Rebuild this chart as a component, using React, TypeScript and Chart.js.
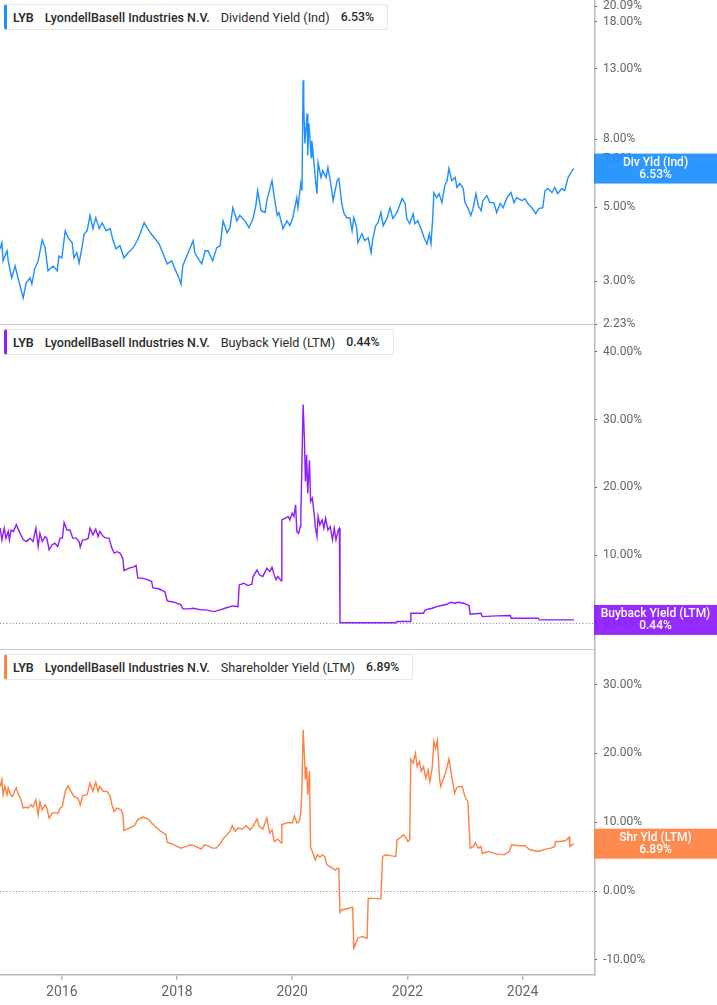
import React, { useEffect, useRef } from 'react';
import { Chart, registerables } from 'chart.js';

Chart.register(...registerables);

// ---------- data ----------
const X_MIN = 2014.927;
const X_MAX = 2025.24;
const yearTicks = [2016, 2018, 2020, 2022, 2024];
const divTicks = [2.23, 3, 5, 7, 8, 13, 18, 20.09];
const buybackTicks = [0, 10, 20, 30, 40];
const shrTicks = [-10, 0, 10, 20, 30];

const divYears = [
  2014.93, 2014.96, 2014.98, 2015.05, 2015.07, 2015.13, 2015.19, 2015.24, 2015.33, 2015.38,
  2015.45, 2015.48, 2015.53, 2015.59, 2015.66, 2015.71, 2015.76, 2015.85, 2015.92, 2015.95,
  2016.00, 2016.06, 2016.11, 2016.18, 2016.21, 2016.26, 2016.30, 2016.35, 2016.39, 2016.44,
  2016.49, 2016.54, 2016.59, 2016.65, 2016.70, 2016.77, 2016.84, 2016.89, 2016.94, 2017.01,
  2017.08, 2017.15, 2017.24, 2017.31, 2017.36, 2017.43, 2017.48, 2017.55, 2017.62, 2017.69,
  2017.76, 2017.83, 2017.91, 2017.96, 2018.02, 2018.07, 2018.10, 2018.17, 2018.23, 2018.28,
  2018.31, 2018.36, 2018.43, 2018.49, 2018.54, 2018.62, 2018.69, 2018.75, 2018.80, 2018.87,
  2018.92, 2018.97, 2019.04, 2019.09, 2019.18, 2019.25, 2019.32, 2019.37, 2019.40, 2019.46,
  2019.53, 2019.56, 2019.65, 2019.68, 2019.74, 2019.77, 2019.84, 2019.91, 2019.96, 2020.01,
  2020.08, 2020.10, 2020.15, 2020.17, 2020.19, 2020.20, 2020.22, 2020.26, 2020.27, 2020.29,
  2020.33, 2020.34, 2020.36, 2020.40, 2020.43, 2020.45, 2020.50, 2020.53, 2020.59, 2020.62,
  2020.67, 2020.71, 2020.78, 2020.81, 2020.86, 2020.90, 2020.95, 2021.00, 2021.04, 2021.07,
  2021.12, 2021.14, 2021.21, 2021.26, 2021.32, 2021.37, 2021.40, 2021.45, 2021.49, 2021.54,
  2021.58, 2021.65, 2021.70, 2021.75, 2021.82, 2021.85, 2021.91, 2021.96, 2021.99, 2022.04,
  2022.10, 2022.13, 2022.18, 2022.25, 2022.29, 2022.34, 2022.38, 2022.41, 2022.44, 2022.46,
  2022.51, 2022.55, 2022.60, 2022.65, 2022.69, 2022.72, 2022.77, 2022.83, 2022.86, 2022.91,
  2022.97, 2023.00, 2023.05, 2023.10, 2023.14, 2023.19, 2023.23, 2023.28, 2023.31, 2023.38,
  2023.43, 2023.50, 2023.55, 2023.61, 2023.66, 2023.73, 2023.80, 2023.85, 2023.90, 2023.99,
  2024.04, 2024.09, 2024.16, 2024.23, 2024.28, 2024.35, 2024.39, 2024.44, 2024.51, 2024.56,
  2024.61, 2024.68, 2024.73, 2024.79, 2024.86, 2024.89,
];
const divValues = [
  3.75, 3.91, 3.45, 3.70, 3.45, 3.07, 3.33, 3.07, 2.67, 2.96,
  3.07, 2.94, 3.27, 3.45, 3.99, 3.78, 3.22, 3.33, 3.22, 3.57,
  3.52, 4.25, 4.05, 3.91, 3.52, 3.65, 3.40, 3.78, 4.16, 4.25,
  4.72, 4.31, 4.65, 4.31, 4.49, 4.25, 4.31, 3.97, 3.75, 3.83,
  3.52, 3.65, 3.78, 3.97, 4.16, 4.49, 4.34, 4.16, 4.02, 3.88,
  3.62, 3.38, 3.45, 3.27, 3.11, 2.94, 3.33, 3.57, 3.78, 3.97,
  3.65, 3.52, 3.38, 3.70, 3.70, 3.45, 3.78, 3.83, 4.55, 4.19,
  4.34, 4.98, 4.55, 4.72, 4.55, 4.34, 4.62, 5.06, 5.61, 4.88,
  4.82, 5.23, 6.01, 5.49, 4.72, 4.82, 4.31, 4.55, 4.40, 4.65,
  5.34, 4.98, 5.89, 5.61, 12.03, 10.25, 7.77, 9.56, 7.15, 8.93,
  7.05, 7.93, 7.40, 6.14, 5.49, 6.81, 6.14, 6.44, 6.14, 6.58,
  5.89, 5.23, 6.01, 6.10, 5.13, 4.78, 4.65, 4.65, 4.25, 4.65,
  4.34, 3.91, 4.16, 3.97, 4.05, 3.65, 4.02, 4.40, 4.49, 4.82,
  4.40, 4.65, 4.98, 4.62, 4.82, 4.98, 5.31, 5.13, 4.62, 4.46,
  4.78, 4.46, 4.55, 4.25, 4.05, 3.88, 4.16, 3.88, 4.65, 5.53,
  5.34, 5.49, 5.16, 5.81, 6.01, 6.53, 6.01, 6.14, 5.73, 5.89,
  5.69, 5.16, 4.98, 4.72, 4.95, 5.49, 5.06, 4.88, 5.23, 5.42,
  5.16, 5.16, 4.82, 5.13, 4.98, 5.34, 5.53, 5.16, 5.34, 5.23,
  5.31, 5.13, 4.98, 4.78, 4.95, 4.98, 5.61, 5.69, 5.53, 5.73,
  5.49, 5.69, 5.61, 6.14, 6.44, 6.53,
];

const buybackYears = [
  2014.93, 2014.96, 2015.00, 2015.03, 2015.07, 2015.09, 2015.12, 2015.16, 2015.21, 2015.26,
  2015.33, 2015.39, 2015.45, 2015.50, 2015.55, 2015.59, 2015.62, 2015.66, 2015.71, 2015.74,
  2015.78, 2015.83, 2015.88, 2015.93, 2015.97, 2016.01, 2016.04, 2016.09, 2016.14, 2016.19,
  2016.25, 2016.30, 2016.32, 2016.36, 2016.40, 2016.46, 2016.49, 2016.54, 2016.59, 2016.63,
  2016.66, 2016.72, 2016.77, 2016.82, 2016.87, 2016.91, 2016.96, 2017.01, 2017.06, 2017.08,
  2017.17, 2017.26, 2017.29, 2017.32, 2017.39, 2017.50, 2017.56, 2017.58, 2017.69, 2017.79,
  2017.83, 2017.95, 2018.07, 2018.10, 2018.21, 2018.28, 2018.42, 2018.50, 2018.64, 2018.75,
  2018.83, 2018.97, 2019.06, 2019.08, 2019.16, 2019.23, 2019.30, 2019.32, 2019.39, 2019.43,
  2019.49, 2019.56, 2019.61, 2019.65, 2019.68, 2019.72, 2019.75, 2019.81, 2019.82, 2019.88,
  2019.93, 2019.96, 2020.00, 2020.03, 2020.06, 2020.08, 2020.11, 2020.14, 2020.15, 2020.17,
  2020.19, 2020.21, 2020.23, 2020.25, 2020.27, 2020.30, 2020.32, 2020.35, 2020.39, 2020.40,
  2020.43, 2020.45, 2020.48, 2020.52, 2020.55, 2020.58, 2020.62, 2020.66, 2020.70, 2020.73,
  2020.76, 2020.80, 2020.82, 2020.83, 2021.80, 2021.82, 2022.05, 2022.06, 2022.28, 2022.31,
  2022.43, 2022.55, 2022.69, 2022.76, 2022.82, 2022.88, 2022.98, 2023.07, 2023.09, 2023.28,
  2023.30, 2023.54, 2023.79, 2023.80, 2024.27, 2024.29, 2024.89,
];
const buybackValues = [
  13.97, 12.25, 13.97, 12.5, 13.5, 12.25, 13.7, 13.5, 14.5, 13.5,
  12.25, 12.0, 12.5, 12.0, 13.97, 11.26, 13.2, 12.0, 12.74, 12.5,
  10.77, 11.5, 11.76, 11.26, 12.5, 12.5, 14.8, 13.7, 13.7, 12.5,
  12.5, 12.0, 11.17, 12.25, 12.25, 12.5, 13.97, 13.0, 13.8, 12.74,
  13.5, 12.74, 12.5, 12.5, 11.0, 10.3, 10.5, 10.3, 9.5, 7.7,
  8.07, 8.3, 8.46, 6.6, 6.6, 6.35, 6.1, 5.2, 5.0, 4.6,
  3.25, 3.05, 2.66, 2.07, 2.07, 2.16, 1.92, 1.92, 1.67, 1.92,
  2.16, 2.5, 2.4, 5.6, 5.85, 5.5, 5.7, 6.84, 7.8, 7.1,
  6.84, 8.07, 7.6, 8.2, 7.3, 6.35, 6.84, 6.2, 15.2, 15.45,
  15.7, 15.2, 16.2, 15.7, 17.4, 13.5, 13.2, 14.2, 15.7, 24.0,
  32.2, 27.7, 20.86, 24.8, 19.1, 24.0, 17.9, 18.4, 15.45, 14.2,
  12.74, 15.7, 14.46, 15.2, 13.97, 15.45, 13.7, 14.2, 12.25, 13.97,
  12.25, 13.7, 13.97, 0.02, 0.02, 0.2, 0.2, 1.43, 1.43, 1.92,
  2.16, 2.5, 2.75, 3.05, 2.9, 3.05, 2.9, 2.56, 1.28, 1.43,
  0.93, 1.03, 1.08, 0.69, 0.69, 0.44, 0.44,
];

const shrYears = [
  2014.93, 2014.96, 2014.98, 2015.01, 2015.05, 2015.07, 2015.11, 2015.14, 2015.18, 2015.21,
  2015.24, 2015.29, 2015.33, 2015.38, 2015.41, 2015.47, 2015.50, 2015.55, 2015.59, 2015.62,
  2015.66, 2015.71, 2015.74, 2015.78, 2015.83, 2015.88, 2015.93, 2015.97, 2016.01, 2016.06,
  2016.11, 2016.16, 2016.21, 2016.28, 2016.32, 2016.36, 2016.44, 2016.49, 2016.54, 2016.59,
  2016.63, 2016.66, 2016.72, 2016.79, 2016.84, 2016.87, 2016.91, 2016.96, 2017.03, 2017.06,
  2017.08, 2017.17, 2017.26, 2017.32, 2017.41, 2017.50, 2017.56, 2017.62, 2017.72, 2017.81,
  2017.83, 2017.91, 2017.98, 2018.07, 2018.16, 2018.24, 2018.30, 2018.35, 2018.42, 2018.48,
  2018.54, 2018.61, 2018.68, 2018.75, 2018.81, 2018.87, 2018.92, 2018.96, 2019.01, 2019.06,
  2019.13, 2019.20, 2019.27, 2019.32, 2019.39, 2019.43, 2019.49, 2019.56, 2019.61, 2019.65,
  2019.69, 2019.75, 2019.81, 2019.82, 2019.89, 2019.96, 2020.00, 2020.04, 2020.08, 2020.12,
  2020.15, 2020.17, 2020.19, 2020.21, 2020.23, 2020.25, 2020.27, 2020.30, 2020.32, 2020.35,
  2020.40, 2020.44, 2020.48, 2020.53, 2020.57, 2020.60, 2020.65, 2020.70, 2020.74, 2020.80,
  2020.81, 2020.83, 2020.86, 2020.98, 2021.05, 2021.07, 2021.14, 2021.21, 2021.30, 2021.32,
  2021.54, 2021.57, 2021.63, 2021.73, 2021.80, 2021.82, 2021.90, 2021.93, 2021.98, 2022.01,
  2022.04, 2022.06, 2022.10, 2022.14, 2022.17, 2022.21, 2022.24, 2022.28, 2022.32, 2022.36,
  2022.39, 2022.43, 2022.46, 2022.49, 2022.52, 2022.56, 2022.58, 2022.62, 2022.67, 2022.72,
  2022.76, 2022.79, 2022.82, 2022.85, 2022.90, 2022.95, 2023.00, 2023.05, 2023.09, 2023.15,
  2023.18, 2023.23, 2023.28, 2023.30, 2023.41, 2023.54, 2023.68, 2023.77, 2023.81, 2023.94,
  2024.04, 2024.13, 2024.27, 2024.40, 2024.49, 2024.56, 2024.57, 2024.66, 2024.75, 2024.81,
  2024.82, 2024.89,
];
const shrValues = [
  15.2, 16.2, 14.0, 15.2, 14.0, 15.0, 14.0, 13.75, 14.5, 15.0,
  14.2, 13.27, 12.06, 12.2, 12.06, 12.55, 12.2, 13.27, 11.1, 13.0,
  11.8, 12.55, 12.06, 10.6, 11.3, 11.4, 11.3, 12.06, 12.3, 14.5,
  15.3, 14.5, 13.75, 13.5, 12.55, 13.85, 14.0, 15.7, 14.5, 15.8,
  14.5, 15.2, 14.5, 14.5, 13.75, 12.55, 11.56, 12.06, 11.8, 11.1,
  8.8, 9.15, 9.5, 10.4, 10.75, 10.46, 9.9, 9.4, 8.7, 8.2,
  7.06, 6.87, 6.58, 6.24, 6.49, 6.73, 6.58, 6.4, 6.1, 6.73,
  6.58, 6.24, 6.24, 6.87, 7.7, 8.2, 8.7, 9.5, 8.7, 9.15,
  9.0, 9.5, 8.9, 9.4, 10.46, 9.4, 9.0, 10.6, 8.4, 8.9,
  7.2, 7.55, 6.97, 9.64, 9.9, 9.97, 9.9, 10.95, 9.9, 10.1,
  11.4, 15.2, 23.45, 20.05, 16.2, 18.1, 14.0, 17.4, 6.24, 5.76,
  4.55, 5.27, 4.93, 5.27, 4.93, 3.82, 3.58, 3.33, 3.09, 3.33,
  3.09, -3.11, -2.73, -2.5, -2.34, -8.3, -6.85, -6.6, -6.85, -1.03,
  -1.13, 5.03, 5.27, 5.12, 5.03, 7.45, 7.94, 8.18, 7.7, 7.2,
  7.45, 19.2, 18.6, 20.05, 18.1, 18.84, 17.4, 18.1, 16.4, 17.6,
  15.9, 17.85, 21.75, 20.77, 21.9, 16.2, 15.2, 16.2, 17.4, 19.2,
  17.15, 15.7, 14.2, 14.96, 15.2, 15.2, 13.75, 13.0, 6.24, 6.49,
  7.06, 6.24, 6.49, 5.5, 5.76, 5.4, 5.27, 5.76, 6.73, 6.58,
  6.58, 6.0, 5.76, 6.1, 6.24, 6.49, 7.2, 7.2, 7.35, 7.84,
  6.49, 6.89,
];

const TICKER = 'LYB';
const COMPANY = 'LyondellBasell Industries N.V.';
const divTitle = 'Dividend Yield (Ind)';
const buybackTitle = 'Buyback Yield (LTM)';
const shrTitle = 'Shareholder Yield (LTM)';
const divLast = 6.53;
const buybackLast = 0.44;
const shrLast = 6.89;

// ---------- styling ----------
const FONT = "Roboto, 'Noto Sans', 'Liberation Sans', sans-serif";
const W = 717;
const AXIS_W = 123;
const BLUE = '#1e8fff';
const PURPLE = '#8d1cff';
const ORANGE = '#ff8142';

type PanelCfg = {
  xs: number[];
  ys: number[];
  color: string;
  boxColor: string;
  yType: 'linear' | 'logarithmic';
  yMin: number;
  yMax: number;
  ticks: number[];
  padTop: number;
  padBottom: number;
  showX: boolean;
  zeroLine: boolean;
  sepY: number | null;
  axisEnd: number;
  boxTitle: string;
  lastValue: number;
};

function makePanel(canvas: HTMLCanvasElement, cfg: PanelCfg) {
  const decor = {
    id: 'decor',
    beforeDatasetsDraw(chart: any) {
      if (!cfg.zeroLine) return;
      const { ctx, chartArea } = chart;
      const y = Math.round(chart.scales.y.getPixelForValue(0)) + 0.5;
      ctx.save();
      ctx.strokeStyle = '#8a8a8a';
      ctx.lineWidth = 1;
      ctx.setLineDash([1, 2.2]);
      ctx.beginPath();
      ctx.moveTo(0, y);
      ctx.lineTo(chartArea.right, y);
      ctx.stroke();
      ctx.restore();
    },
    afterDraw(chart: any) {
      const { ctx, chartArea } = chart;
      ctx.save();
      if (cfg.sepY !== null) {
        ctx.strokeStyle = '#c8c8c8';
        ctx.lineWidth = 1;
        ctx.beginPath();
        ctx.moveTo(0, cfg.sepY);
        ctx.lineTo(chartArea.right, cfg.sepY);
        ctx.stroke();
      }
      ctx.strokeStyle = '#b8b8b8';
      ctx.lineWidth = 1.5;
      ctx.beginPath();
      const ax = chartArea.right + 0.75;
      ctx.moveTo(ax, 0);
      ctx.lineTo(ax, cfg.axisEnd);
      ctx.stroke();
      const cy = chart.scales.y.getPixelForValue(cfg.lastValue);
      ctx.globalAlpha = 0.93;
      ctx.fillStyle = cfg.boxColor;
      ctx.fillRect(chartArea.right, cy - 15, chart.width - chartArea.right, 30);
      ctx.globalAlpha = 1;
      ctx.fillStyle = '#ffffff';
      ctx.textAlign = 'center';
      ctx.textBaseline = 'middle';
      ctx.font = `500 12px ${FONT}`;
      const cx = (chartArea.right + chart.width) / 2;
      ctx.fillText(cfg.boxTitle, cx, cy - 6);
      ctx.fillText(cfg.lastValue.toFixed(2) + '%', cx, cy + 6);
      ctx.restore();
    },
  };

  return new Chart(canvas, {
    type: 'line',
    data: {
      datasets: [
        {
          data: cfg.xs.map((x, i) => ({ x, y: cfg.ys[i] })),
          borderColor: cfg.color,
          borderWidth: 1.4,
          pointRadius: 0,
          tension: 0,
          fill: false,
        },
      ],
    },
    options: {
      animation: false,
      responsive: false,
      devicePixelRatio: 1,
      events: [],
      layout: { padding: { top: cfg.padTop, bottom: cfg.padBottom, left: 0, right: 0 } },
      plugins: { legend: { display: false }, tooltip: { enabled: false } },
      scales: {
        x: {
          type: 'linear',
          min: X_MIN,
          max: X_MAX,
          display: cfg.showX,
          afterBuildTicks: (s: any) => {
            s.ticks = yearTicks.map((v) => ({ value: v }));
          },
          afterFit: (s: any) => {
            s.height = cfg.showX ? 30 : 0;
            s.paddingLeft = 0;
            s.paddingRight = 0;
          },
          grid: {
            display: true,
            drawOnChartArea: false,
            drawTicks: true,
            tickLength: 5,
            color: '#b8b8b8',
            lineWidth: 1.5,
          },
          border: { display: true, color: '#b8b8b8', width: 1.5 },
          ticks: {
            color: '#666666',
            font: { family: FONT, size: 14 },
            padding: 4,
            maxRotation: 0,
            autoSkip: false,
            callback: (v: any) => String(v),
          },
        },
        y: {
          type: cfg.yType,
          position: 'right',
          min: cfg.yMin,
          max: cfg.yMax,
          afterBuildTicks: (s: any) => {
            s.ticks = cfg.ticks.map((v) => ({ value: v }));
          },
          afterFit: (s: any) => {
            s.width = AXIS_W;
            s.paddingTop = 0;
            s.paddingBottom = 0;
          },
          grid: {
            display: true,
            drawOnChartArea: false,
            drawTicks: true,
            tickLength: 3,
            color: '#555555',
            lineWidth: 1,
          },
          border: { display: false },
          ticks: {
            color: '#666666',
            font: { family: FONT, size: 12 },
            padding: 6,
            autoSkip: false,
            callback: (v: any) => Number(v).toFixed(2) + '%',
          },
        },
      } as any,
    },
    plugins: [decor],
  } as any);
}

function Legend({ top, color, title, value }: { top: number; color: string; title: string; value: string }) {
  const base: React.CSSProperties = { whiteSpace: 'nowrap' };
  return (
    <div
      style={{
        position: 'absolute',
        left: 4,
        top,
        height: 24,
        display: 'flex',
        alignItems: 'center',
        background: '#fff',
        border: '1px solid #e6e6e6',
        borderLeft: `3px solid ${color}`,
        borderRadius: 3,
        paddingLeft: 6,
        paddingRight: 13,
        fontFamily: FONT,
        color: '#2b2b2b',
        boxSizing: 'content-box',
      }}
    >
      <span style={{ ...base, fontWeight: 600, fontSize: 12.5 }}>{TICKER}</span>
      <span style={{ ...base, fontWeight: 500, fontSize: 12.5, marginLeft: 11 }}>{COMPANY}</span>
      <span style={{ ...base, fontWeight: 400, fontSize: 12.7, marginLeft: 11 }}>{title}</span>
      <span style={{ ...base, fontWeight: 500, fontSize: 12.3, marginLeft: 11 }}>{value}</span>
    </div>
  );
}

export default function App() {
  const r1 = useRef<HTMLCanvasElement>(null);
  const r2 = useRef<HTMLCanvasElement>(null);
  const r3 = useRef<HTMLCanvasElement>(null);

  useEffect(() => {
    document.body.style.margin = '0';
    const charts: Chart[] = [];
    if (r1.current)
      charts.push(
        makePanel(r1.current, {
          xs: divYears,
          ys: divValues,
          color: BLUE,
          boxColor: BLUE,
          yType: 'logarithmic',
          yMin: 2.23,
          yMax: 20.09,
          ticks: divTicks,
          padTop: 6,
          padBottom: 11,
          showX: false,
          zeroLine: false,
          sepY: 324.5,
          axisEnd: 325,
          boxTitle: 'Div Yld (Ind)',
          lastValue: divLast,
        })
      );
    if (r2.current)
      charts.push(
        makePanel(r2.current, {
          xs: buybackYears,
          ys: buybackValues,
          color: PURPLE,
          boxColor: PURPLE,
          yType: 'linear',
          yMin: -4,
          yMax: 43.8,
          ticks: buybackTicks,
          padTop: 1,
          padBottom: 10,
          showX: false,
          zeroLine: true,
          sepY: 324.5,
          axisEnd: 325,
          boxTitle: 'Buyback Yield (LTM)',
          lastValue: buybackLast,
        })
      );
    if (r3.current)
      charts.push(
        makePanel(r3.current, {
          xs: shrYears,
          ys: shrValues,
          color: ORANGE,
          boxColor: ORANGE,
          yType: 'linear',
          yMin: -12.2,
          yMax: 34.9,
          ticks: shrTicks,
          padTop: 1,
          padBottom: 0,
          showX: true,
          zeroLine: true,
          sepY: null,
          axisEnd: 326,
          boxTitle: 'Shr Yld (LTM)',
          lastValue: shrLast,
        })
      );
    return () => charts.forEach((c) => c.destroy());
  }, []);

  return (
    <div style={{ position: 'absolute', left: 0, top: 0, width: W, height: 1005, background: '#fff', overflow: 'hidden' }}>
      <canvas ref={r1} width={W} height={335} style={{ position: 'absolute', left: 0, top: 0 }} />
      <canvas ref={r2} width={W} height={335} style={{ position: 'absolute', left: 0, top: 325 }} />
      <canvas ref={r3} width={W} height={355} style={{ position: 'absolute', left: 0, top: 650 }} />
      <Legend top={4} color={BLUE} title={divTitle} value={divLast.toFixed(2) + '%'} />
      <Legend top={329} color={PURPLE} title={buybackTitle} value={buybackLast.toFixed(2) + '%'} />
      <Legend top={654} color={ORANGE} title={shrTitle} value={shrLast.toFixed(2) + '%'} />
    </div>
  );
}
